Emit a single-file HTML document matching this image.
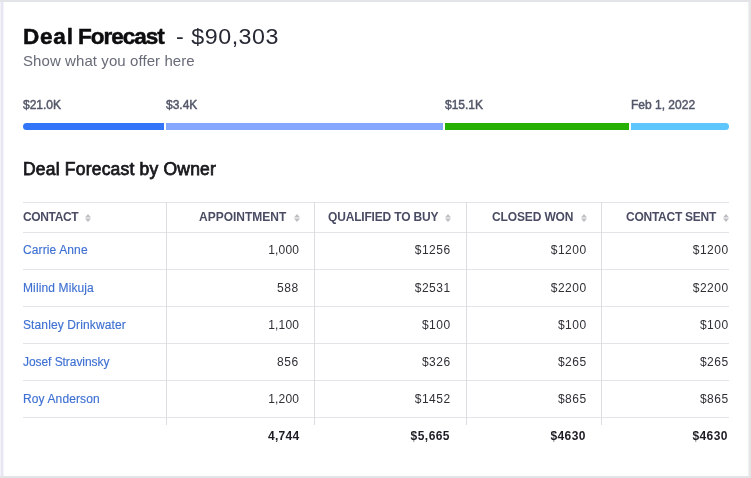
<!DOCTYPE html>
<html><head><meta charset="utf-8">
<style>
*{margin:0;padding:0;box-sizing:border-box}
html,body{width:751px;height:478px;overflow:hidden;background:#fff}
body{font-family:"Liberation Sans",sans-serif;position:relative}
.wrap{position:absolute;left:0;top:0;width:751px;height:478px;will-change:transform}
.card{position:absolute;left:0;top:0;width:751px;height:478px;background:#fff}
.bd{position:absolute}
.a{position:absolute;white-space:nowrap}
.t1{left:23px;top:24px;font-size:22.5px;line-height:26px;font-weight:bold;color:#0d0d0f;letter-spacing:-0.5px;-webkit-text-stroke:0.5px #0d0d0f}
.t2{left:176px;top:25px;font-size:21.5px;line-height:24px;color:#262833;letter-spacing:0.5px;transform:scaleX(1.08);transform-origin:0 0}
.sub{left:23px;top:52px;font-size:15px;line-height:17px;color:#686b78;letter-spacing:0.08px}
.bl{top:98px;font-size:12px;line-height:14px;color:#525667;-webkit-text-stroke:0.45px #525667}
.bar{position:absolute;top:123px;height:7px}
.h2{left:23px;top:160px;font-size:17.5px;line-height:19px;color:#18191d;letter-spacing:0.2px;-webkit-text-stroke:0.75px #18191d}
.hl{position:absolute;height:1px;background:#e3e4e7}
.vl{position:absolute;width:1px;background:#dcdde0}
.th{top:210px;font-size:12px;line-height:14px;font-weight:bold;color:#4a4c64}
.ic{position:absolute;top:214px;width:6px;height:8px}
.c1{left:23px;font-size:12px;line-height:14px;color:#3f71d2;letter-spacing:0.12px;-webkit-text-stroke:0.15px #3f71d2}
.n{font-size:12px;line-height:14px;color:#2e3036;text-align:right;letter-spacing:0.5px;margin-right:0.4px}
.f{font-size:12px;line-height:14px;color:#1d1e24;font-weight:bold;text-align:right;letter-spacing:0.45px;margin-right:1px}
</style></head><body>
<div class="wrap">
<div class="card"></div>
<div class="bd" style="left:0;top:0;width:1px;height:478px;background:#f3f3f9"></div>
<div class="bd" style="left:1px;top:0;width:2px;height:478px;background:#e7e6f2"></div>
<div class="bd" style="left:3px;top:0;width:1px;height:478px;background:#f4f4fa"></div>
<div class="bd" style="left:748px;top:0;width:1px;height:478px;background:#f0f1f3"></div>
<div class="bd" style="left:749px;top:0;width:2px;height:478px;background:#e5e6e8"></div>
<div class="bd" style="left:0;top:0;width:751px;height:2px;background:#e3e4e7"></div>
<div class="bd" style="left:0;top:476px;width:751px;height:2px;background:#e2e4e6"></div>
<div class="a t1" style="letter-spacing:0.8px">Deal</div>
<div class="a t1" style="left:78px;letter-spacing:-1px">Forecast</div>
<div class="a t2">- $90,303</div>
<div class="a sub">Show what you offer here</div>

<div class="a bl" style="left:23px">$21.0K</div>
<div class="a bl" style="left:166px">$3.4K</div>
<div class="a bl" style="left:445px">$15.1K</div>
<div class="a bl" style="left:631px">Feb 1, 2022</div>

<div class="bar" style="left:23px;width:141px;background:#3275f8;border-radius:4px 0 0 4px"></div>
<div class="bar" style="left:166px;width:277px;background:#85a8fe"></div>
<div class="bar" style="left:445px;width:184px;background:#27b004"></div>
<div class="bar" style="left:631px;width:98px;background:#5ec5fd;border-radius:0 4px 4px 0"></div>

<div class="a h2">Deal Forecast by Owner</div>

<!-- horizontal lines -->
<div class="hl" style="left:23px;width:706px;top:202px"></div>
<div class="hl" style="left:23px;width:706px;top:232px"></div>
<div class="hl" style="left:23px;width:706px;top:269px"></div>
<div class="hl" style="left:23px;width:706px;top:306px"></div>
<div class="hl" style="left:23px;width:706px;top:343px"></div>
<div class="hl" style="left:23px;width:706px;top:380px"></div>
<div class="hl" style="left:23px;width:706px;top:417px"></div>
<!-- vertical lines -->
<div class="vl" style="left:166px;top:202px;height:223px"></div>
<div class="vl" style="left:314px;top:202px;height:223px"></div>
<div class="vl" style="left:466px;top:202px;height:223px"></div>
<div class="vl" style="left:601px;top:202px;height:223px"></div>

<!-- header -->
<div class="a th" style="left:23px;letter-spacing:-0.36px">CONTACT</div>
<div class="a th" style="left:199px">APPOINTMENT</div>
<div class="a th" style="left:328px;letter-spacing:-0.18px">QUALIFIED TO BUY</div>
<div class="a th" style="left:492px;letter-spacing:-0.13px">CLOSED WON</div>
<div class="a th" style="left:626px;letter-spacing:-0.26px">CONTACT SENT</div>
<svg class="ic" style="left:85px" viewBox="0 0 6 8"><path d="M0 3.5L3 0L6 3.5Z M0 4.5L6 4.5L3 8Z" fill="#bdbec3"/></svg>
<svg class="ic" style="left:294px" viewBox="0 0 6 8"><path d="M0 3.5L3 0L6 3.5Z M0 4.5L6 4.5L3 8Z" fill="#bdbec3"/></svg>
<svg class="ic" style="left:445px" viewBox="0 0 6 8"><path d="M0 3.5L3 0L6 3.5Z M0 4.5L6 4.5L3 8Z" fill="#bdbec3"/></svg>
<svg class="ic" style="left:581px" viewBox="0 0 6 8"><path d="M0 3.5L3 0L6 3.5Z M0 4.5L6 4.5L3 8Z" fill="#bdbec3"/></svg>
<svg class="ic" style="left:723px" viewBox="0 0 6 8"><path d="M0 3.5L3 0L6 3.5Z M0 4.5L6 4.5L3 8Z" fill="#bdbec3"/></svg>

<!-- rows -->
<div class="a c1" style="top:243.4px">Carrie Anne</div>
<div class="a c1" style="top:280.6px">Milind Mikuja</div>
<div class="a c1" style="top:317.7px">Stanley Drinkwater</div>
<div class="a c1" style="top:354.8px;letter-spacing:-0.06px">Josef Stravinsky</div>
<div class="a c1" style="top:391.9px">Roy Anderson</div>

<div class="a n" style="right:452px;top:243.4px;letter-spacing:0.2px;margin-right:-0.2px">1,000</div>
<div class="a n" style="right:452px;top:280.6px">588</div>
<div class="a n" style="right:452px;top:317.7px;letter-spacing:0.2px;margin-right:-0.2px">1,100</div>
<div class="a n" style="right:452px;top:354.8px">856</div>
<div class="a n" style="right:452px;top:391.9px;letter-spacing:0.2px;margin-right:-0.2px">1,200</div>

<div class="a n" style="right:300px;top:243.4px">$1256</div>
<div class="a n" style="right:300px;top:280.6px">$2531</div>
<div class="a n" style="right:300px;top:317.7px">$100</div>
<div class="a n" style="right:300px;top:354.8px">$326</div>
<div class="a n" style="right:300px;top:391.9px">$1452</div>

<div class="a n" style="right:164px;top:243.4px">$1200</div>
<div class="a n" style="right:164px;top:280.6px">$2200</div>
<div class="a n" style="right:164px;top:317.7px">$100</div>
<div class="a n" style="right:164px;top:354.8px">$265</div>
<div class="a n" style="right:164px;top:391.9px">$865</div>

<div class="a n" style="right:22px;top:243.4px">$1200</div>
<div class="a n" style="right:22px;top:280.6px">$2200</div>
<div class="a n" style="right:22px;top:317.7px">$100</div>
<div class="a n" style="right:22px;top:354.8px">$265</div>
<div class="a n" style="right:22px;top:391.9px">$865</div>

<div class="a f" style="right:452px;top:429px;letter-spacing:0.3px;margin-right:-0.5px">4,744</div>
<div class="a f" style="right:300px;top:429px">$5,665</div>
<div class="a f" style="right:164px;top:429px">$4630</div>
<div class="a f" style="right:22px;top:429px">$4630</div>
</div>
</body></html>
